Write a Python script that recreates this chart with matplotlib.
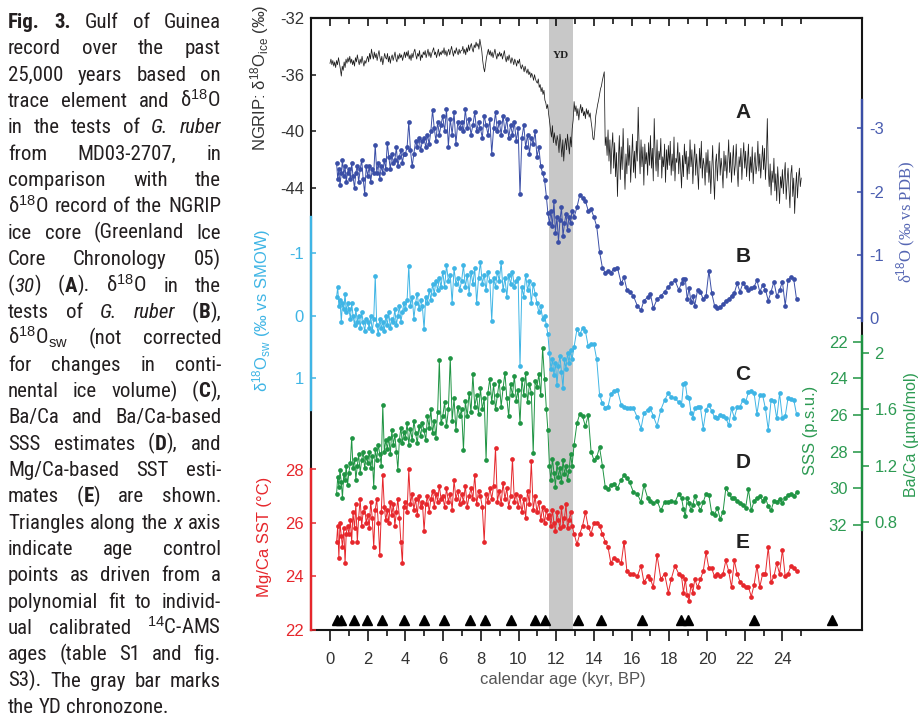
import re
import numpy as np
import matplotlib
matplotlib.use('Agg')
import matplotlib.pyplot as plt
from matplotlib import font_manager as fm

plt.rcParams['font.family'] = ['Liberation Sans', 'DejaVu Sans']
plt.rcParams['mathtext.fontset'] = 'custom'
plt.rcParams['mathtext.rm'] = 'Liberation Sans'
plt.rcParams['mathtext.it'] = 'Liberation Sans:italic'
plt.rcParams['mathtext.bf'] = 'Liberation Sans:bold'
plt.rcParams['axes.unicode_minus'] = False

# ---------------- data ----------------
# NGRIP d18O ice, 50-yr steps starting at 0 kyr
ngrip_start, ngrip_step = 0.0, 0.05
ngrip_d18o = [
    -35.2, -34.9, -35.3, -35.0, -35.4, -35.1, -35.5, -35.0, -35.3, -34.8, -35.2, -35.6, -36.1, -35.4, -35.7, -35.1, -35.5, -34.9, -35.2, -34.8,
    -35.1, -34.7, -35.2, -34.9, -35.3, -35.0, -35.4, -34.8, -35.1, -34.6, -35.0, -35.3, -34.9, -35.2, -34.7, -35.1, -35.4, -35.0, -35.2, -34.9,
    -34.7, -35.1, -34.5, -34.9, -34.2, -34.6, -34.9, -34.4, -34.8, -34.5, -35.0, -34.6, -34.3, -34.8, -35.1, -34.7, -35.3, -34.9, -34.5, -34.8,
    -34.9, -34.5, -35.1, -34.7, -35.2, -34.8, -34.6, -35.0, -34.7, -34.4, -34.9, -35.1, -34.6, -34.9, -34.5, -34.8, -34.6, -35.0, -34.7, -34.4,
    -34.8, -34.4, -34.7, -34.3, -34.9, -34.6, -35.0, -34.5, -34.8, -34.4, -34.2, -34.6, -34.9, -34.5, -34.7, -34.3, -35.0, -34.6, -34.8, -34.4,
    -34.6, -34.3, -34.8, -34.5, -34.2, -34.7, -34.4, -34.8, -34.5, -34.3, -34.1, -34.6, -34.4, -34.8, -34.5, -34.2, -34.7, -34.4, -34.6, -34.3,
    -34.5, -34.1, -34.6, -34.3, -34.7, -34.4, -34.2, -34.6, -34.3, -34.0, -34.4, -34.7, -34.3, -34.5, -34.1, -34.4, -34.6, -34.2, -34.5, -34.3,
    -34.3, -34.0, -34.5, -34.2, -34.6, -34.1, -34.4, -33.9, -34.3, -34.0, -33.8, -34.2, -34.4, -33.9, -34.1, -33.7, -34.0, -33.8, -34.2, -33.5,
    -33.9, -34.3, -35.0, -35.5, -35.8, -35.3, -34.8, -34.5, -34.2, -34.6, -34.3, -34.7, -34.4, -34.8, -34.5, -34.2, -34.6, -34.9, -34.5, -34.7,
    -34.4, -34.7, -34.5, -34.9, -34.6, -34.3, -34.8, -35.1, -34.7, -35.0, -34.6, -34.9, -35.2, -34.8, -35.0, -35.3, -34.9, -35.1, -35.4, -35.0,
    -35.2, -34.9, -35.4, -35.6, -35.3, -35.5, -35.8, -35.4, -35.7, -35.9, -35.6, -36.0, -35.8, -36.2, -35.9, -36.1, -36.4, -36.0, -36.3, -36.5,
    -36.6, -36.3, -36.9, -36.7, -37.2, -36.9, -37.4, -37.1, -37.8, -38.0, -38.4, -38.1, -38.8, -39.3, -39.9, -40.4, -39.6, -40.8, -40.1, -40.6,
    -41.0, -40.3, -40.7, -41.5, -40.2, -40.9, -41.8, -40.6, -42.1, -41.0, -40.5, -41.3, -40.2, -40.9, -41.6, -40.4, -41.1, -39.8, -39.2, -37.9,
    -38.6, -38.2, -38.9, -38.4, -39.2, -38.5, -38.1, -38.7, -38.3, -38.9, -38.6, -39.1, -38.4, -38.8, -38.5, -39.0, -38.7, -39.3, -39.8, -40.5,
    -40.6, -39.9, -38.9, -38.5, -38.1, -37.8, -37.4, -37.0, -36.8, -36.4, -36.1, -35.8, -41.0, -40.4, -41.7, -39.9, -42.1, -40.6, -43.0, -41.2,
    -40.1, -42.6, -40.8, -43.2, -41.5, -44.6, -42.0, -40.3, -43.4, -41.1, -42.7, -39.8, -42.2, -44.1, -41.6, -43.0, -40.5, -42.4, -41.0, -43.6,
    -41.9, -40.2, -42.9, -41.4, -43.3, -40.7, -42.1, -38.3, -41.2, -43.0, -40.6, -42.5, -41.1, -43.8, -40.9, -42.3, -41.5, -43.1, -40.8, -42.4,
    -40.3, -42.6, -41.2, -43.5, -39.1, -41.7, -42.8, -40.6, -43.2, -41.4, -42.0, -40.5, -43.3, -41.8, -42.5, -40.9, -43.6, -41.3, -42.7, -41.0,
    -42.4, -40.7, -43.1, -41.6, -42.8, -40.4, -43.5, -41.9, -42.2, -40.8, -43.0, -41.5, -42.6, -44.0, -41.7, -43.2, -40.9, -42.3, -41.4, -43.4,
    -41.8, -43.0, -40.6, -42.5, -41.3, -43.7, -42.0, -40.9, -43.1, -41.6, -42.8, -44.1, -41.2, -42.6, -40.7, -43.3, -41.9, -42.4, -43.8, -41.5,
    -42.9, -41.3, -43.6, -42.1, -44.4, -42.6, -41.0, -43.2, -44.8, -42.3, -41.6, -43.5, -42.0, -40.8, -43.1, -41.9, -42.7, -44.0, -41.4, -42.8,
    -41.7, -43.3, -42.1, -40.6, -42.9, -41.5, -43.6, -42.2, -41.0, -43.1, -42.4, -40.9, -42.7, -43.9, -41.8, -42.5, -41.2, -43.4, -42.0, -40.8,
    -42.6, -41.4, -43.2, -42.0, -40.9, -43.5, -41.8, -42.9, -41.1, -43.7, -42.3, -41.5, -43.0, -42.4, -40.7, -42.8, -41.6, -43.3, -42.1, -41.0,
    -42.7, -41.2, -43.4, -41.9, -39.1, -42.6, -43.9, -42.3, -44.5, -42.8, -43.6, -41.9, -44.2, -43.0, -44.9, -42.5, -43.7, -45.1, -43.2, -44.0,
    -42.7, -44.4, -43.1, -42.2, -44.8, -43.5, -42.6, -44.1, -45.4, -43.0, -42.4, -44.6, -43.3, -45.8, -44.0, -42.9, -44.7, -43.4, -42.6, -43.9,
    -43.3,
]

# MD03-2707 sample ages (kyr BP)
age = [
    0.35, 0.41, 0.47, 0.53, 0.60, 0.66, 0.73, 0.80, 0.86, 0.93,
    1.00, 1.08, 1.15, 1.22, 1.30, 1.37, 1.45, 1.52, 1.60, 1.68, 1.76, 1.84, 1.92,
    2.00, 2.08, 2.16, 2.24, 2.32, 2.40, 2.48, 2.56, 2.64, 2.72, 2.80, 2.88, 2.96,
    3.04, 3.12, 3.20, 3.28, 3.36, 3.44, 3.52, 3.60, 3.68, 3.76, 3.84, 3.92,
    4.00, 4.09, 4.18, 4.27, 4.36, 4.45, 4.54, 4.63, 4.72, 4.81, 4.90,
    4.99, 5.08, 5.17, 5.26, 5.35, 5.44, 5.53, 5.62, 5.71, 5.80, 5.89,
    5.98, 6.08, 6.18, 6.28, 6.38, 6.48, 6.58, 6.68, 6.78, 6.88,
    6.98, 7.08, 7.18, 7.28, 7.38, 7.48, 7.58, 7.68, 7.78, 7.88,
    7.98, 8.08, 8.18, 8.28, 8.38, 8.48, 8.58, 8.68, 8.78, 8.88,
    8.98, 9.08, 9.18, 9.28, 9.38, 9.48, 9.58, 9.68, 9.78, 9.88,
    9.98, 10.08, 10.18, 10.28, 10.38, 10.48, 10.58, 10.68, 10.78, 10.88,
    10.98, 11.08, 11.18, 11.28, 11.38, 11.48, 11.56,
    11.64, 11.72, 11.80, 11.88, 11.96, 12.04, 12.12, 12.20, 12.28, 12.36,
    12.44, 12.52, 12.60, 12.68, 12.76, 12.84,
    12.95, 13.10, 13.25, 13.40, 13.55, 13.70, 13.85, 14.00, 14.15, 14.30,
    14.45, 14.60, 14.75, 14.90,
    15.05, 15.25, 15.45, 15.60, 15.75, 15.90, 16.10, 16.30, 16.50, 16.65,
    16.85, 17.00, 17.15, 17.35, 17.55, 17.75, 17.95, 18.10, 18.30, 18.50,
    18.65, 18.75, 18.85, 18.95, 19.05, 19.15, 19.25, 19.35, 19.50, 19.65,
    19.80, 19.95, 20.10, 20.25, 20.40, 20.55, 20.70, 20.85, 21.00, 21.15,
    21.30, 21.45, 21.60, 21.75, 21.90, 22.05, 22.20, 22.35, 22.50, 22.65,
    22.80, 22.95, 23.10, 23.25, 23.40, 23.55, 23.70, 23.85, 24.00, 24.15,
    24.30, 24.45, 24.60, 24.75,
]

# (B) d18O G. ruber, permil vs PDB
d18o_ruber = [
    -2.45, -2.20, -2.35, -2.10, -2.30, -2.50, -2.25, -2.40, -2.15, -2.30,
    -2.35, -2.20, -2.45, -2.25, -2.05, -2.30, -2.40, -2.15, -2.35, -2.50, -2.20, -1.97, -2.40,
    -2.25, -2.40, -2.15, -2.35, -2.30, -2.74, -2.30, -2.45, -2.20, -2.40, -2.30, -2.50, -2.35,
    -2.77, -2.55, -2.35, -2.60, -2.45, -2.50, -2.70, -2.40, -2.55, -2.65, -2.45, -2.60,
    -2.60, -2.70, -3.10, -2.65, -2.40, -2.60, -2.80, -2.70, -2.85, -2.65, -2.80,
    -2.85, -2.70, -2.90, -2.75, -2.95, -3.29, -3.00, -2.80, -3.10, -2.90, -3.05,
    -3.20, -2.95, -3.30, -2.71, -3.15, -2.90, -3.25, -2.75, -3.10, -3.00,
    -3.10, -2.95, -3.30, -3.00, -3.15, -2.90, -3.05, -3.25, -2.95, -3.10,
    -3.00, -2.85, -3.20, -3.05, -2.90, -3.15, -2.60, -3.00, -3.25, -2.95,
    -3.10, -2.90, -3.20, -2.95, -3.15, -2.85, -3.05, -2.90, -3.10, -2.80,
    -3.00, -1.96, -2.85, -3.05, -2.70, -2.90, -2.60, -2.85, -2.75, -2.95,
    -2.55, -2.70, -2.40, -2.29, -2.19, -1.92, -1.66,
    -1.50, -1.70, -1.45, -1.85, -1.35, -1.60, -1.21, -1.55, -1.75, -1.30,
    -1.50, -1.65, -1.40, -1.60, -1.50, -1.70,
    -1.60, -1.75, -1.95, -1.90, -1.85, -1.70, -1.72, -1.60, -1.45, -1.05,
    -0.80, -0.72, -0.75, -0.72,
    -0.78, -0.80, -0.55, -0.65, -0.45, -0.42, -0.35, -0.20, -0.13, -0.28,
    -0.33, -0.38, -0.16, -0.30, -0.35, -0.42, -0.50, -0.55, -0.60, -0.45,
    -0.55, -0.62, -0.62, -0.30, -0.48, -0.25, -0.35, -0.20, -0.45, -0.42,
    -0.30, -0.35, -0.75, -0.40, -0.20, -0.17, -0.18, -0.22, -0.28, -0.30,
    -0.36, -0.40, -0.55, -0.42, -0.55, -0.50, -0.45, -0.48, -0.50, -0.60,
    -0.42, -0.52, -0.45, -0.28, -0.42, -0.58, -0.35, -0.44, -0.58, -0.20,
    -0.60, -0.65, -0.62, -0.30,
]

# (C) d18O seawater, permil vs SMOW
d18o_sw = [
    -0.30, -0.45, -0.15, -0.25, 0.10, -0.20, -0.10, -0.35, -0.05, -0.20,
    -0.10, 0.05, -0.20, 0.00, 0.15, -0.10, 0.10, 0.00, 0.20, -0.05, 0.10, 0.25, 0.05,
    0.10, 0.20, 0.00, 0.25, 0.05, -0.63, 0.15, 0.30, 0.05, 0.20, 0.10, 0.25, 0.00,
    0.15, -0.05, 0.20, 0.05, 0.10, -0.10, 0.15, 0.00, -0.15, 0.10, -0.05, -0.20,
    -0.10, -0.25, -0.79, -0.15, -0.30, 0.05, -0.20, -0.35, -0.10, -0.25, -0.15,
    0.22, -0.30, -0.20, -0.40, -0.25, -0.50, -0.35, -0.55, -0.40, -0.60, -0.45,
    -0.70, -0.45, -0.80, -0.55, -0.65, -0.20, -0.75, -0.50, -0.60, -0.40,
    -0.55, -0.80, -0.45, -0.65, -0.35, -0.70, -0.50, -0.75, -0.20, -0.60,
    -0.85, -0.50, -0.65, -0.40, -0.70, -0.55, 0.09, -0.60, -0.45, -0.70,
    -0.55, -0.85, -0.40, -0.60, -0.30, -0.65, -0.50, -0.70, -0.45, -0.55,
    -0.60, 0.81, -0.45, -0.30, -0.65, -0.40, -0.55, -0.20, -0.50, -0.35,
    -0.20, -0.05, -0.15, 0.05, 0.00, 0.15, 0.30,
    0.60, 0.85, 0.70, 0.95, 0.75, 1.10, 0.80, 0.65, 0.90, 1.15,
    0.70, 0.85, 0.60, 0.75, 0.55, 0.70,
    0.50, 0.22, 0.30, 0.20, 0.25, 0.49, 0.45, 0.46, 0.70, 1.26,
    1.40, 1.47, 1.45, 1.25,
    1.20, 1.19, 1.42, 1.45, 1.47, 1.47, 1.48, 1.62, 1.80, 1.56,
    1.50, 1.48, 1.60, 1.76, 1.50, 1.35, 1.23, 1.30, 1.32, 1.38,
    1.42, 1.09, 1.08, 1.30, 1.32, 1.55, 1.63, 1.48, 1.45, 1.46,
    1.80, 1.50, 1.42, 1.52, 1.62, 1.63, 1.58, 1.60, 1.63, 1.75,
    1.48, 1.63, 1.46, 1.45, 1.35, 1.38, 1.22, 1.20, 1.24, 1.57,
    1.27, 1.27, 1.48, 1.82, 1.35, 1.36, 1.64, 1.24, 1.64, 1.60,
    1.31, 1.33, 1.34, 1.57,
]

# (D) Ba/Ca, umol/mol
ba_ca = [
    1.00, 1.12, 1.05, 1.17, 1.08, 0.97, 1.14, 1.10, 1.20, 1.06,
    1.15, 1.22, 1.40, 1.18, 1.25, 1.10, 1.20, 1.28, 1.15, 1.24, 1.30, 1.18, 1.26,
    1.22, 1.30, 1.18, 1.27, 1.05, 1.32, 1.24, 1.35, 1.28, 1.20, 1.63, 1.30, 1.38,
    1.32, 1.40, 1.28, 1.45, 1.35, 1.42, 1.30, 1.17, 1.38, 1.47, 1.36, 1.44,
    1.40, 1.50, 1.35, 1.46, 1.38, 1.52, 1.43, 1.36, 1.48, 1.41, 1.50,
    1.45, 1.38, 1.55, 1.47, 1.60, 1.43, 1.52, 1.40, 1.58, 1.95, 1.50,
    1.55, 1.65, 1.48, 1.60, 1.97, 1.52, 1.68, 1.45, 1.62, 1.55,
    1.60, 1.31, 1.66, 1.55, 1.72, 1.58, 1.85, 1.62, 1.70, 1.57,
    1.75, 1.60, 1.68, 1.24, 1.72, 1.82, 1.65, 1.78, 1.60, 1.70,
    1.80, 1.62, 1.75, 1.86, 1.68, 1.55, 1.78, 1.70, 1.84, 1.66,
    1.74, 1.50, 1.82, 1.70, 1.86, 1.65, 1.78, 1.72, 1.29, 1.80,
    1.76, 1.85, 1.70, 2.04, 1.82, 1.60, 1.45,
    1.20, 1.10, 1.25, 1.15, 1.05, 1.22, 1.12, 1.18, 1.08, 1.24,
    1.14, 1.20, 1.10, 1.16, 1.28, 1.20,
    1.35, 1.50, 1.57, 1.55, 1.48, 1.56, 1.30, 1.24, 1.26, 1.33,
    1.20, 1.05, 1.03, 1.06,
    1.07, 1.04, 1.10, 1.13, 1.11, 1.08, 1.01, 1.00, 0.94, 1.06,
    0.97, 0.95, 0.93, 0.95, 0.88, 0.94, 0.94, 0.95, 0.94, 1.00,
    0.97, 0.89, 0.84, 0.97, 0.93, 0.88, 0.92, 0.98, 0.93, 0.88,
    0.94, 1.00, 0.99, 0.86, 0.85, 0.90, 0.82, 0.87, 1.04, 1.00,
    0.97, 0.97, 0.95, 0.93, 0.92, 0.90, 1.03, 0.88, 0.95, 0.97,
    0.98, 0.95, 0.97, 0.91, 0.88, 0.95, 0.94, 0.96, 0.93, 0.97,
    0.99, 1.00, 0.98, 1.01,
]

# (E) Mg/Ca SST, deg C
sst = [
    25.3, 25.9, 24.7, 26.0, 25.5, 25.1, 25.8, 24.5, 25.6, 25.9,
    25.6, 26.1, 25.3, 26.4, 25.8, 26.7, 25.3, 26.2, 26.9, 25.9, 26.4, 26.6, 26.0,
    26.3, 25.8, 26.8, 26.2, 25.1, 26.5, 26.9, 26.0, 24.8, 26.4, 27.8, 26.6, 26.1,
    26.5, 26.0, 26.8, 26.3, 26.7, 25.9, 26.4, 26.9, 26.2, 25.3, 24.5, 26.6,
    26.8, 26.4, 28.0, 26.7, 27.1, 26.5, 26.9, 26.3, 27.0, 26.6, 26.8,
    25.7, 26.7, 27.0, 26.4, 26.9, 27.2, 26.6, 27.1, 26.8, 27.4, 26.9,
    27.0, 26.6, 27.3, 26.8, 27.1, 26.5, 27.6, 26.9, 27.2, 26.7,
    27.1, 26.8, 27.4, 26.6, 27.0, 27.3, 26.9, 27.8, 26.7, 27.2,
    27.0, 26.6, 25.3, 27.1, 26.8, 27.3, 26.9, 27.4, 28.8, 26.8,
    27.2, 26.7, 27.5, 26.9, 27.3, 26.6, 27.0, 28.4, 26.8, 27.1,
    26.6, 27.0, 26.4, 26.9, 26.2, 27.2, 26.7, 28.3, 26.5, 27.0,
    26.4, 26.8, 26.1, 26.6, 26.0, 26.5, 26.2,
    26.3, 25.9, 26.5, 26.0, 25.7, 26.4, 26.1, 25.8, 26.6, 25.9,
    26.2, 26.7, 25.8, 26.1, 26.4, 25.9,
    25.6, 25.2, 25.6, 25.9, 26.4, 25.85, 25.6, 26.0, 26.0, 25.9,
    25.6, 25.3, 25.1, 24.5,
    24.7, 24.6, 24.5, 25.3, 24.2, 24.1, 24.1, 24.0, 24.4, 23.8,
    24.0, 23.9, 23.6, 24.8, 23.9, 24.1, 23.4, 23.9, 24.4, 24.1,
    24.0, 23.4, 23.9, 23.3, 23.1, 23.7, 23.4, 23.9, 23.6, 23.9,
    24.2, 24.9, 24.3, 24.3, 24.0, 24.1, 24.0, 24.1, 24.6, 24.2,
    23.6, 24.6, 24.1, 23.8, 23.7, 23.6, 23.6, 23.25, 23.7, 24.4,
    23.6, 24.1, 24.1, 25.1, 23.8, 24.0, 24.5, 24.1, 25.0, 24.0,
    24.1, 24.4, 24.3, 24.2,
]

# age control points (kyr BP)
control_ages = [0.35, 0.6, 1.28, 1.97, 2.77, 3.92, 4.98, 6.05, 7.42, 8.24, 9.62,
                10.85, 11.38, 13.15, 14.37, 16.55, 18.63, 19.0, 22.5, 26.65]
yd_start, yd_end = 11.6, 12.9

c_ngrip = '#1c1c1c'
c_b = '#3a4ea6'
c_c = '#3fb5e5'
c_d = '#1f9443'
c_e = '#e6272c'

# ---------------- figure ----------------
fig = plt.figure(figsize=(9.21, 7.2), dpi=100)
FW, FH = 921, 720
L, R, T, B = 311, 862, 18, 630


def kyr(xpx):
    return (xpx - 330) / 18.85


def fy(ypx):
    return (B - ypx) / (B - T)


def calib(v1, y1, v2, y2):
    k = (v2 - v1) / (y2 - y1)
    return lambda y: v1 + k * (y - y1)


ax = fig.add_axes([L / FW, 1 - B / FH, (R - L) / FW, (B - T) / FH])
ax.set_xlim(kyr(L), kyr(R))
ax.set_ylim(0, 1)
ax.set_yticks([])
for s in ax.spines.values():
    s.set_linewidth(1.5)
    s.set_color('#151515')
ax.set_xticks(range(0, 25, 2))
ax.set_xticks(range(1, 26, 2), minor=True)
ax.tick_params(axis='x', which='major', direction='out', length=8, width=1.1,
               pad=8, labelsize=12, labelcolor='#333333')
ax.tick_params(axis='x', which='minor', direction='out', length=4.5, width=1.1)
ax.set_xlabel('calendar age (kyr, BP)', fontsize=12, color='#555555')
ax.xaxis.set_label_coords(0.457, fy(672))

top = ax.secondary_xaxis('top')
top.set_xticks(range(0, 25, 2))
top.set_xticks(range(1, 26, 2), minor=True)
top.tick_params(which='major', direction='in', length=6, width=1.1)
top.tick_params(which='minor', direction='in', length=4, width=1.1)
top.tick_params(which='both', labeltop=False, labelbottom=False)
top.spines['top'].set_linewidth(1.5)

ax.axvspan(yd_start, yd_end, color='#c8c8c8', lw=0, zorder=0)
ax.text((yd_start + yd_end) / 2, fy(55), 'YD', family=['Liberation Serif', 'DejaVu Serif'],
        weight='bold', fontsize=8, ha='center', va='center', color='#222222')


def twin(side, color, f, ticks, spine=None, direction='in', length=3.6, pad=5,
         labelcolor=None):
    a = ax.twinx()
    for s in a.spines.values():
        s.set_visible(False)
    a.set_ylim(f(B), f(T))
    a.yaxis.set_ticks_position(side)
    a.yaxis.set_label_position(side)
    a.set_yticks(ticks)
    a.tick_params(axis='y', color=color, labelcolor=labelcolor or color,
                  direction=direction, length=length, width=1.1, pad=pad, labelsize=12)
    if spine:
        sp = a.spines[side]
        sp.set_visible(True)
        sp.set_color(color)
        sp.set_linewidth(1.7)
        sp.set_bounds(f(spine[0]), f(spine[1]))
    return a


f_a = calib(-32, 18, -44, 188)
f_c = calib(-1, 252.7, 1, 378.3)
f_e = calib(28, 469.5, 22, 630)
f_b = calib(-3, 128.3, 0, 318.3)
f_d = calib(2, 353.3, 0.8, 521.7)
f_s = calib(22, 341.7, 32, 525)

ax_a = twin('left', '#151515', f_a, [-32, -36, -40, -44], labelcolor='#333333')
ax_c = twin('left', c_c, f_c, [-1, 0, 1], spine=(217, 410))
ax_e = twin('left', c_e, f_e, [22, 24, 26, 28], spine=(469, 630))
ax_b = twin('right', c_b, f_b, [-3, -2, -1, 0], spine=(100, 321), pad=5.5,
            labelcolor='#4a5db0')
ax_d = twin('right', c_d, f_d, [2, 1.6, 1.2, 0.8], spine=(336, 530),
            direction='out', length=5, pad=4, labelcolor='#2c9a52')
ax_d.set_yticklabels(['2', '1.6', '1.2', '0.8'])
ax_s = twin('left', c_d, f_s, [22, 24, 26, 28, 30, 32], direction='out',
            length=6.5, pad=4, labelcolor='#2c9a52')
ax_s.spines['left'].set_position(('axes', 1.0))

ax_a.set_ylabel('NGRIP: δ$^{18}$O$_\\mathrm{ice}$ (‰)', fontsize=12, color='#333333')
ax_a.yaxis.set_label_coords((271 - L) / (R - L), fy(78))
ax_c.set_ylabel('δ$^{18}$O$_\\mathrm{sw}$ (‰ vs SMOW)', fontsize=12, color=c_c)
ax_c.yaxis.set_label_coords((273 - L) / (R - L), fy(310))
ax_e.set_ylabel('Mg/Ca SST (°C)', fontsize=12, color=c_e)
ax_e.yaxis.set_label_coords((272 - L) / (R - L), fy(537))
ax_b.set_ylabel('δ$^{18}$O (‰ vs PDB)', fontsize=12, color='#5566b3',
                family=['Liberation Serif', 'DejaVu Serif'])
ax_b.yaxis.set_label_coords((895 - L) / (R - L), fy(222))
ax_d.set_ylabel('Ba/Ca (µmol/mol)', fontsize=11.5, color='#2c9a52')
ax_d.yaxis.set_label_coords((904 - L) / (R - L), fy(435))
ax_s.set_ylabel('SSS (p.s.u.)', fontsize=12, color='#2c9a52')
ax_s.yaxis.set_label_coords((818 - L) / (R - L), fy(430))

ngrip_age = ngrip_start + ngrip_step * np.arange(len(ngrip_d18o))
ax_a.plot(ngrip_age, ngrip_d18o, color=c_ngrip, lw=0.55)
mk = dict(marker='o', ms=3.4, lw=0.7, mew=0)
ax_b.plot(age, d18o_ruber, color=c_b, **mk)
ax_c.plot(age, d18o_sw, color=c_c, **mk)
ax_d.plot(age, ba_ca, color=c_d, **mk)
ax_e.plot(age, sst, color=c_e, **mk)

ax_e.plot(control_ages, np.full(len(control_ages), fy(620)), transform=ax.get_xaxis_transform(),
          ls='none', marker='^', ms=6.5, color='black', clip_on=False)

for name, ypx in zip('ABCDE', [112, 257, 375, 463, 542]):
    ax.text(kyr(743), fy(ypx), name, fontsize=15, weight='bold', ha='center',
            va='center', color='#222222', zorder=5)

# ---------------- caption ----------------
cap_lines = [
    '**Fig. 3.** Gulf of Guinea',
    'record over the past',
    '25,000 years based on',
    'trace element and δ$^{18}$O',
    'in the tests of *G. ruber*',
    'from MD03-2707, in',
    'comparison with the',
    'δ$^{18}$O record of the NGRIP',
    'ice core (Greenland Ice',
    'Core Chronology 05)',
    '(*30*) (**A**). δ$^{18}$O in the',
    'tests of *G. ruber* (**B**),',
    'δ$^{18}$O$_\\mathrm{sw}$ (not corrected',
    'for changes in conti-',
    'nental ice volume) (**C**),',
    'Ba/Ca and Ba/Ca-based',
    'SSS estimates (**D**), and',
    'Mg/Ca-based SST esti-',
    'mates (**E**) are shown.',
    'Triangles along the *x* axis',
    'indicate age control',
    'points as driven from a',
    'polynomial fit to individ-',
    'ual calibrated $^{14}$C-AMS',
    'ages (table S1 and fig.',
    'S3). The gray bar marks',
    'the YD chronozone.',
]

names = {f.name for f in fm.fontManager.ttflist}
cap_family = 'DejaVu Sans'
for cand in ['Liberation Sans Narrow', 'Roboto Condensed', 'Open Sans Condensed']:
    if cand in names:
        cap_family = cand
        break


def parse(line):
    segs = []
    for part in re.split(r'(\*\*.*?\*\*|\*.*?\*)', line):
        if not part:
            continue
        if part.startswith('**'):
            segs.append((part[2:-2], 'bold'))
        elif part.startswith('*'):
            segs.append((part[1:-1], 'italic'))
        else:
            segs.append((part, 'normal'))
    words = [[]]
    for text, st in segs:
        for i, p in enumerate(text.split(' ')):
            if i > 0:
                words.append([])
            if p:
                words[-1].append((p, st))
    return [w for w in words if w]


renderer = fig.canvas.get_renderer()


def props(st, fs):
    return dict(family=[cap_family, 'DejaVu Sans'], stretch='condensed', fontsize=fs,
                weight='bold' if st == 'bold' else 'normal',
                style='italic' if st == 'italic' else 'normal', color='#231f20')


def text_w(s, st, fs):
    t = fig.text(0, 0, s, **props(st, fs))
    w = t.get_window_extent(renderer).width
    t.remove()
    return w


cap_x0, cap_x1 = 8, 221
cap_w = cap_x1 - cap_x0
parsed = [parse(l) for l in cap_lines]
fs = 14.0
space = text_w('n n', 'normal', fs) - text_w('nn', 'normal', fs)
natural = max(sum(text_w(s, st, fs) for w in ws for s, st in w) + space * (len(ws) - 1)
              for ws in parsed)
fs = min(15.0, fs * cap_w / natural * 0.99)
space = text_w('n n', 'normal', fs) - text_w('nn', 'normal', fs)

for i, words in enumerate(parsed):
    ybase = 1 - (28 + i * 26.35) / FH
    seg_w = [[text_w(s, st, fs) for s, st in w] for w in words]
    total = sum(sum(sw) for sw in seg_w)
    if i < len(parsed) - 1 and len(words) > 1:
        gap = (cap_w - total) / (len(words) - 1)
    else:
        gap = space
    x = cap_x0
    for w, sw in zip(words, seg_w):
        for (s, st), wd in zip(w, sw):
            fig.text(x / FW, ybase, s, ha='left', va='baseline', **props(st, fs))
            x += wd
        x += gap

fig.savefig('out.png', dpi=100)
